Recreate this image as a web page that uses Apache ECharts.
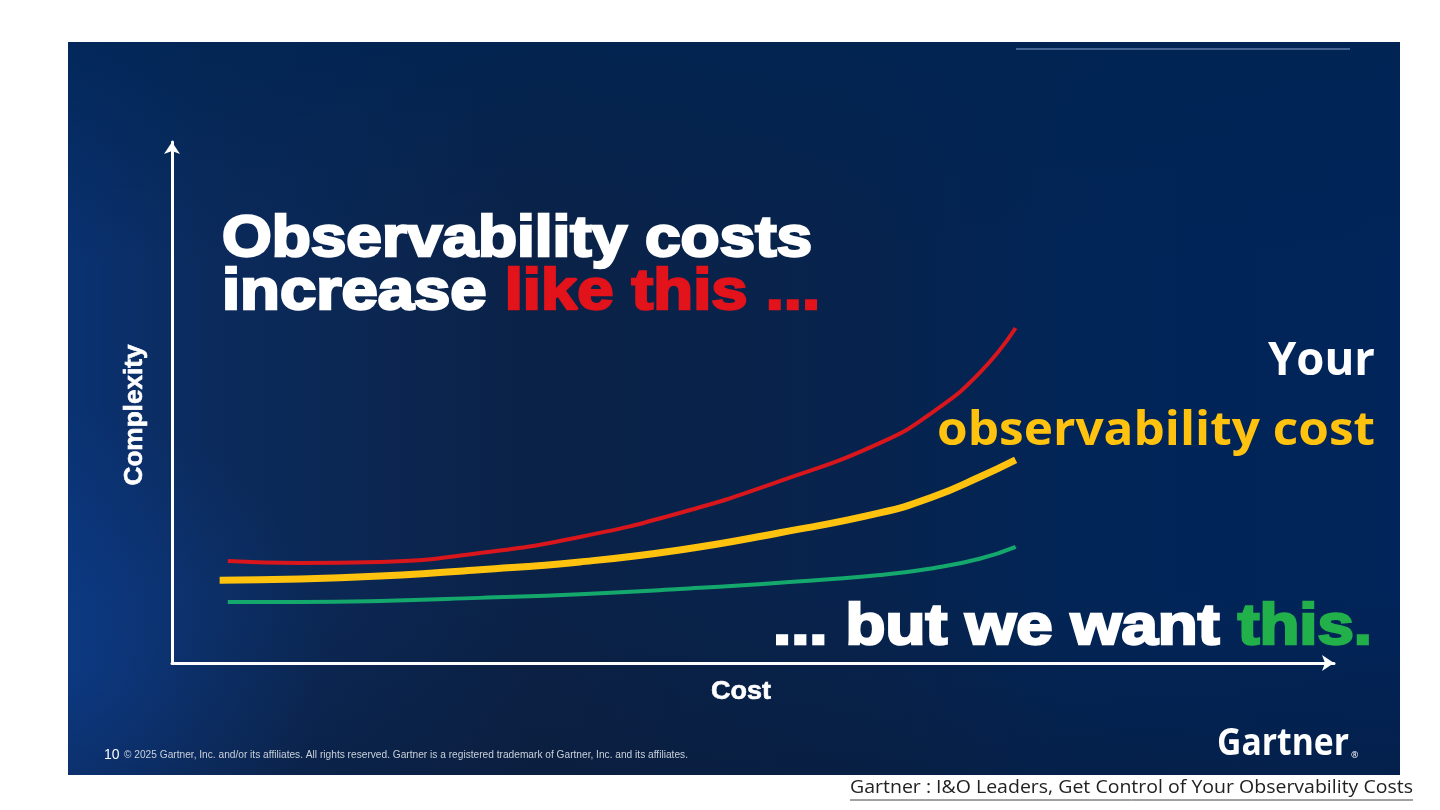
<!DOCTYPE html>
<html><head><meta charset="utf-8">
<script src="https://cdn.jsdelivr.net/npm/echarts@6/dist/echarts.min.js"></script>
<style>html,body{margin:0;padding:0;background:#fff}#c{width:1440px;height:810px}</style>
</head><body><div id="c"></div>
<script>
// Cost (x) and complexity (y) readings, axis range 0..100
const costRed = [4.8, 11.0, 17.9, 26.5, 35.1, 43.7, 52.3, 60.9, 65.5, 69.5, 72.6];
const complexityRed = [19.6, 19.2, 19.4, 21.1, 24.2, 28.8, 34.9, 42.2, 48.2, 55.7, 64.3];
const costYellow = [4.1, 11.0, 17.9, 26.5, 35.1, 43.7, 52.3, 60.9, 65.5, 69.5, 72.6];
const complexityYellow = [15.9, 16.1, 16.7, 17.9, 19.4, 21.7, 25.0, 28.8, 31.9, 35.7, 39.0];
const costGreen = [4.8, 11.0, 17.9, 26.5, 35.1, 43.7, 52.3, 60.9, 65.5, 69.5, 72.6];
const complexityGreen = [11.7, 11.7, 11.9, 12.5, 13.2, 14.2, 15.4, 16.9, 18.2, 20.0, 22.3];

const axisNames = { x: 'Cost', y: 'Complexity' };
const titleLine1 = 'Observability costs';
const titleLine2a = 'increase ';
const titleLine2b = 'like this ...';
const rightLine1 = 'Your';
const rightLine2 = 'observability cost';
const bottomA = '... but we want ';
const bottomB = 'this.';
const footerNum = '10';
const footerText = '\u00a9 2025 Gartner, Inc. and/or its affiliates. All rights reserved. Gartner is a registered trademark of Gartner, Inc. and its affiliates.';
const logoText = 'Gartner';
const caption = 'Gartner : I&O Leaders, Get Control of Your Observability Costs';

const ctx = document.createElement('canvas').getContext('2d');
function tw(text, size, family, weight) {
  ctx.font = (weight || 'normal') + ' ' + size + 'px ' + family;
  return ctx.measureText(text).width;
}
const HEAVY = '"Liberation Sans", Arial, sans-serif';
const CAL = '"Open Sans", "Noto Sans", sans-serif';
const NARROW = '"Liberation Sans Narrow", "Liberation Sans", Arial, sans-serif';

function fitText(opts) {
  const w = tw(opts.measure || opts.text, opts.size, opts.family, opts.weight);
  return opts.target / w;
}

const chart = echarts.init(document.getElementById('c'), null, { renderer: 'canvas' });

const t1Size = 57, t2Size = 57, bSize = 57, rSize = 47;
const graphics = [
  // slide background
  { type: 'rect', z: -20, shape: { x: 68, y: 42, width: 1332, height: 733 },
    style: { fill: new echarts.graphic.LinearGradient(0, 0, 1, 0, [
      { offset: 0, color: '#0a3272' }, { offset: 0.1, color: '#0b2b5d' },
      { offset: 0.35, color: '#0b2247' }, { offset: 0.6, color: '#07234d' },
      { offset: 0.75, color: '#022557' }, { offset: 1, color: '#01245a' }]) } },
  { type: 'rect', z: -19, shape: { x: 68, y: 42, width: 1332, height: 733 },
    style: { fill: new echarts.graphic.LinearGradient(0, 0, 0, 1, [
      { offset: 0, color: 'rgba(0,36,82,0.75)' }, { offset: 0.3, color: 'rgba(0,36,82,0)' },
      { offset: 0.75, color: 'rgba(10,24,50,0)' }, { offset: 1, color: 'rgba(10,24,50,0.35)' }]) } },
  { type: 'rect', z: -18, shape: { x: 68, y: 42, width: 1332, height: 733 },
    style: { fill: new echarts.graphic.RadialGradient(0, 0.85, 0.35, [
      { offset: 0, color: 'rgba(16,70,160,0.45)' }, { offset: 1, color: 'rgba(16,70,160,0)' }]) } },
  // thin top line
  { type: 'line', z: -10, shape: { x1: 1016, y1: 49, x2: 1350, y2: 49 }, style: { stroke: '#5b79a6', lineWidth: 1.5 } },
  // title
  { type: 'text', z: 50, x: 222, y: 240,
    scaleX: fitText({ text: titleLine1, size: t1Size, family: HEAVY, weight: 'bold', target: 590 }),
    style: { text: titleLine1, fill: '#ffffff', stroke: '#ffffff', lineWidth: 2.5, fontSize: t1Size, fontWeight: 'bold', fontFamily: HEAVY, align: 'left', verticalAlign: 'middle' } },
  { type: 'text', z: 50, x: 222, y: 293,
    scaleX: fitText({ text: titleLine2a + titleLine2b, size: t2Size, family: HEAVY, weight: 'bold', target: 598 }),
    style: { text: '{a|' + titleLine2a + '}{b|' + titleLine2b + '}', fontSize: t2Size, fontWeight: 'bold', fontFamily: HEAVY, align: 'left', verticalAlign: 'middle',
      rich: { a: { fill: '#ffffff', stroke: '#ffffff', lineWidth: 2.5, fontSize: t2Size, fontWeight: 'bold', fontFamily: HEAVY },
              b: { fill: '#e3131b', stroke: '#e3131b', lineWidth: 2.5, fontSize: t2Size, fontWeight: 'bold', fontFamily: HEAVY } } } },
  // right labels
  { type: 'text', z: 50, x: 1375, y: 362,
    scaleX: fitText({ text: rightLine1, size: rSize, family: CAL, weight: 'bold', target: 107 }),
    style: { text: rightLine1, fill: '#ffffff', fontSize: rSize, fontWeight: 'bold', fontFamily: CAL, align: 'right', verticalAlign: 'middle' } },
  { type: 'text', z: 50, x: 1375, y: 432,
    scaleX: fitText({ text: rightLine2, size: rSize, family: CAL, weight: 'bold', target: 438 }),
    style: { text: rightLine2, fill: '#ffc20e', fontSize: rSize, fontWeight: 'bold', fontFamily: CAL, align: 'right', verticalAlign: 'middle' } },
  // bottom statement
  { type: 'text', z: 50, x: 1372, y: 628,
    scaleX: fitText({ text: bottomA + bottomB, size: bSize, family: HEAVY, weight: 'bold', target: 599 }),
    style: { text: '{a|' + bottomA + '}{b|' + bottomB + '}', fontSize: bSize, fontWeight: 'bold', fontFamily: HEAVY, align: 'right', verticalAlign: 'middle',
      rich: { a: { fill: '#ffffff', stroke: '#ffffff', lineWidth: 2.5, fontSize: bSize, fontWeight: 'bold', fontFamily: HEAVY },
              b: { fill: '#22b04b', stroke: '#22b04b', lineWidth: 2.5, fontSize: bSize, fontWeight: 'bold', fontFamily: HEAVY } } } },
  // axis names
  { type: 'text', z: 50, x: 135, y: 415, rotation: Math.PI / 2,
    scaleX: fitText({ text: axisNames.y, size: 25, family: HEAVY, weight: 'bold', target: 141 }),
    style: { text: axisNames.y, fill: '#ffffff', stroke: '#ffffff', lineWidth: 0.6, fontSize: 25, fontWeight: 'bold', fontFamily: HEAVY, align: 'center', verticalAlign: 'middle' } },
  { type: 'text', z: 50, x: 741, y: 692,
    scaleX: fitText({ text: axisNames.x, size: 26, family: HEAVY, weight: 'bold', target: 60 }),
    style: { text: axisNames.x, fill: '#ffffff', stroke: '#ffffff', lineWidth: 0.6, fontSize: 26, fontWeight: 'bold', fontFamily: HEAVY, align: 'center', verticalAlign: 'middle' } },
  // footer
  { type: 'text', z: 50, x: 104, y: 755,
    style: { text: footerNum, fill: '#ffffff', fontSize: 14, fontFamily: NARROW, align: 'left', verticalAlign: 'middle' } },
  { type: 'text', z: 50, x: 124, y: 755,
    scaleX: fitText({ text: footerText, size: 10, family: NARROW, weight: 'normal', target: 564 }),
    style: { text: footerText, fill: '#c9d0da', fontSize: 10, fontFamily: NARROW, align: 'left', verticalAlign: 'middle' } },
  // logo
  { type: 'text', z: 50, x: 1217, y: 744,
    scaleX: fitText({ text: logoText, size: 37, family: CAL, weight: 'bold', target: 132 }),
    style: { text: logoText, fill: '#ffffff', fontSize: 37, fontWeight: 'bold', fontFamily: CAL, align: 'left', verticalAlign: 'middle' } },
  { type: 'text', z: 50, x: 1351, y: 755,
    style: { text: '\u00ae', fill: '#ffffff', fontSize: 9, fontFamily: CAL, align: 'left', verticalAlign: 'middle' } },
  // caption
  { type: 'text', z: 50, x: 850, y: 788,
    scaleX: fitText({ text: caption, size: 19, family: CAL, weight: 'normal', target: 563 }),
    style: { text: caption, fill: '#222222', fontSize: 19, fontFamily: CAL, align: 'left', verticalAlign: 'middle' } },
  { type: 'line', z: 50, shape: { x1: 850, y1: 800, x2: 1413, y2: 800 }, style: { stroke: '#444444', lineWidth: 1 } }
];

const axisCommon = {
  type: 'value', min: 0, max: 100,
  axisTick: { show: false }, axisLabel: { show: false }, splitLine: { show: false },
  axisLine: { show: true, symbol: ['none', 'arrow'], symbolSize: [12, 12], lineStyle: { color: '#ffffff', width: 3 } }
};

chart.setOption({
  backgroundColor: '#ffffff',
  animation: false,
  grid: { left: 172, top: 142, width: 1162, height: 521 },
  xAxis: Object.assign({}, axisCommon),
  yAxis: Object.assign({}, axisCommon),
  graphic: graphics,
  series: [
    { type: 'line', name: 'rising', data: costRed.map((c, i) => [c, complexityRed[i]]), smooth: 0.5, showSymbol: false,
      lineStyle: { color: '#d9161c', width: 4 }, z: 5 },
    { type: 'line', name: 'yours', data: costYellow.map((c, i) => [c, complexityYellow[i]]), smooth: 0.5, showSymbol: false,
      lineStyle: { color: '#ffc20e', width: 7 }, z: 5 },
    { type: 'line', name: 'wanted', data: costGreen.map((c, i) => [c, complexityGreen[i]]), smooth: 0.5, showSymbol: false,
      lineStyle: { color: '#14a86c', width: 4 }, z: 5 }
  ]
});
</script>
</body></html>
